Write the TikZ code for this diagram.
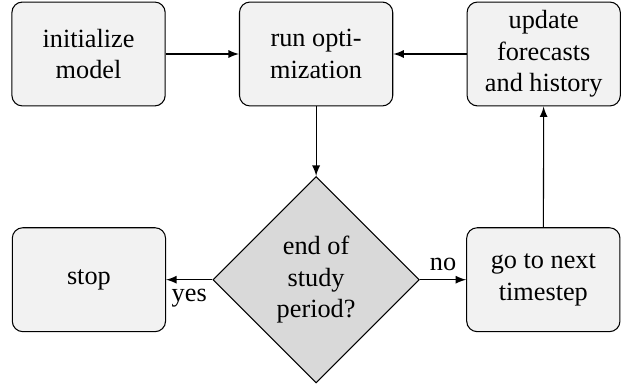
\documentclass[tikz,border=0pt]{standalone}
\usepackage{fontspec}
\setmainfont{LiberationSerif}[Extension=.ttf, UprightFont=*-Regular, BoldFont=*-Bold]
\usetikzlibrary{shapes.geometric,positioning,arrows}

\tikzset{
  block/.style={draw, rounded corners=4pt, fill=gray!10, align=center,
    minimum width=2.05cm, minimum height=1.39cm, inner sep=2pt},
  decision/.style={draw, diamond, fill=gray!30, align=center,
    minimum width=2.76cm, minimum height=2.76cm, inner sep=0pt},
  line/.style={draw, -latex}
}

\begin{document}
\begin{tikzpicture}[node distance=0.98cm, font=\fontsize{10}{12}\selectfont]
\useasboundingbox (-33.7pt,20.55pt) rectangle (205.3pt,-126pt);
\node[block](init)at(0,0){initialize\\model};
\node[block, right=of init](runopt){run opti-\\mization};
\node[block, right=of runopt](update){update\\forecasts\\and history};
\node[decision, below=0.93cm of runopt](endq){end of\\study\\period?};
\node[block, left=0.62cm of endq](stop){stop};
\node[block, right=0.62cm of endq](next){go to next\\timestep};
\draw[line](init)--(runopt);
\draw[line](update)--(runopt);
\draw[line](runopt)--(endq);
\draw[line](endq)--node[below]{yes}(stop);
\draw[line](endq)--node[above]{no}(next);
\draw[line](next)--(update);
\end{tikzpicture}
\end{document}
